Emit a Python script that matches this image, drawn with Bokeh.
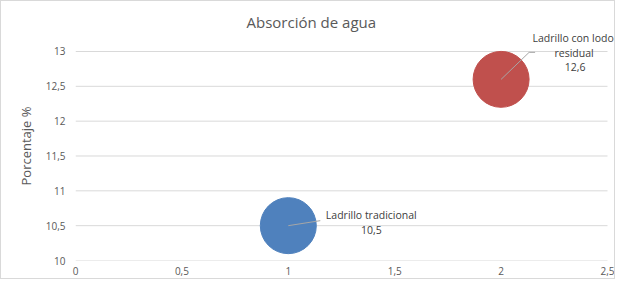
from bokeh.plotting import figure
from bokeh.models import Range1d, FixedTicker, ColumnDataSource, Label
from bokeh.embed import file_html
from bokeh.resources import INLINE

# ---- data ----
categories = ["Ladrillo tradicional", "Ladrillo con lodo residual"]
x_vals = [1, 2]
y_vals = [10.5, 12.6]
value_labels = ["10,5", "12,6"]
x_ticks = [0, 0.5, 1, 1.5, 2, 2.5]
x_tick_labels = ["0", "0,5", "1", "1,5", "2", "2,5"]
y_ticks = [10, 10.5, 11, 11.5, 12, 12.5, 13]
y_tick_labels = ["10", "10,5", "11", "11,5", "12", "12,5", "13"]

# ---- styles ----
FONT = "Open Sans"
GRAY = "#595959"
W, H = 615, 279
BL, BR, BT, BB = 74, 0, 30, 20
XMIN, XMAX, YMIN, YMAX = 0, 2.5, 10, 13
PX_PER_X = 212.8   # px per x unit (frame scale)
PX_PER_Y = 69.67   # px per y unit
XMAX_VIEW = XMAX + (W - BL - BR - XMAX * PX_PER_X) / PX_PER_X
YMAX_VIEW = YMIN + (H - BT - BB) / PX_PER_Y

p = figure(width=W, height=H, output_backend="svg", toolbar_location=None,
           x_range=Range1d(XMIN, XMAX_VIEW), y_range=Range1d(YMIN, YMAX_VIEW),
           min_border_left=BL, min_border_right=BR, min_border_top=BT,
           min_border_bottom=BB, title="Absorción de agua")
p.styles = {"border": "1px solid #d9d9d9"}
p.outline_line_color = None
p.background_fill_color = "white"
p.border_fill_color = "white"

p.title.align = "left"
p.title.offset = 171
p.title.text_font = FONT
p.title.text_font_size = "15px"
p.title.text_font_style = "normal"
p.title.text_color = GRAY
p.title.standoff = 0

p.xgrid.grid_line_color = None
p.ygrid.grid_line_color = None
# horizontal gridlines limited to the x-axis span, as in the original
p.segment(x0=[XMIN] * len(y_ticks), x1=[XMAX] * len(y_ticks),
          y0=y_ticks, y1=y_ticks, line_color="#d9d9d9", line_width=1)

p.xaxis.ticker = FixedTicker(ticks=x_ticks)
p.yaxis.ticker = FixedTicker(ticks=y_ticks)
p.xaxis.major_label_overrides = dict(zip(x_ticks, x_tick_labels))
p.yaxis.major_label_overrides = dict(zip(y_ticks, y_tick_labels))
for ax in (p.xaxis[0], p.yaxis[0]):
    ax.axis_line_color = None
    ax.major_tick_line_color = None
    ax.minor_tick_line_color = None
    ax.major_tick_out = 0
    ax.major_tick_in = 0
    ax.major_label_text_font = FONT
    ax.major_label_text_font_size = "10px"
    ax.major_label_text_color = GRAY
p.xaxis.major_label_standoff = 6
p.yaxis.major_label_standoff = 10
p.yaxis.axis_label = "Porcentaje %"
p.yaxis.axis_label_text_font = FONT
p.yaxis.axis_label_text_font_size = "13px"
p.yaxis.axis_label_text_font_style = "normal"
p.yaxis.axis_label_text_color = GRAY
p.yaxis.axis_label_standoff = 8

src = ColumnDataSource(dict(x=x_vals, y=y_vals, name=categories,
                            val=value_labels,
                            color=["#4F81BD", "#C0504D"]))

p.scatter("x", "y", size=56, fill_color="color", line_color="color",
          source=src)

# leader lines (pixel offsets converted to data units)
ux = 1 / PX_PER_X
uy = 1 / PX_PER_Y
lead_px = [[(0, 0), (32, 5)], [(0, 0), (28, 27), (34, 27)]]
xs = [[x + dx * ux for dx, dy in pts] for x, pts in zip(x_vals, lead_px)]
ys = [[y + dy * uy for dx, dy in pts] for y, pts in zip(y_vals, lead_px)]
p.multi_line(xs, ys, line_color="#a6a6a6", line_width=1)

# data labels (offsets in px, positive dy = up)
def lab(x, y, t, dx, dy):
    p.add_layout(Label(x=x, y=y, text=t, x_offset=dx, y_offset=dy,
                       text_font=FONT, text_font_size="10.5px",
                       text_color="#404040", text_align="center",
                       text_baseline="middle"))

lab(x_vals[0], y_vals[0], categories[0], 83, 11)
lab(x_vals[0], y_vals[0], value_labels[0], 83, -4)
n1, n2 = categories[1].rsplit(" ", 1)
lab(x_vals[1], y_vals[1], n1, 72, 41)
lab(x_vals[1], y_vals[1], n2, 73, 26)
lab(x_vals[1], y_vals[1], value_labels[1], 74, 12)

open("out.html", "w").write(file_html(p, INLINE))
